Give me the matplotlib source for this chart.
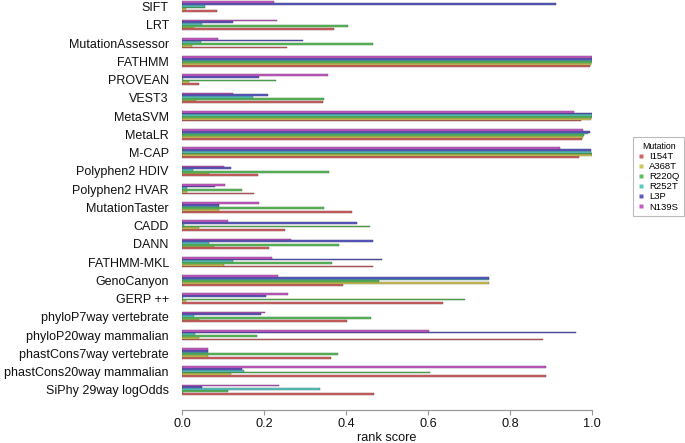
import matplotlib
matplotlib.use("Agg")
import matplotlib.pyplot as plt
from matplotlib.lines import Line2D
from matplotlib.colors import to_rgb
import numpy as np

plt.rcParams['font.family'] = ['Liberation Sans', 'DejaVu Sans']

categories = ["SIFT", "LRT", "MutationAssessor", "FATHMM", "PROVEAN", "VEST3",
              "MetaSVM", "MetaLR", "M-CAP", "Polyphen2 HDIV", "Polyphen2 HVAR",
              "MutationTaster", "CADD", "DANN", "FATHMM-MKL", "GenoCanyon",
              "GERP ++", "phyloP7way vertebrate", "phyloP20way mammalian",
              "phastCons7way vertebrate", "phastCons20way mammalian",
              "SiPhy 29way logOdds"]

mutations = ["I154T", "A368T", "R220Q", "R252T", "L3P", "N139S"]

I154T = [0.085, 0.370, 0.255, 0.996, 0.042, 0.343, 0.973, 0.975, 0.968, 0.185, 0.176,
         0.414, 0.250, 0.211, 0.465, 0.392, 0.636, 0.403, 0.880, 0.363, 0.889, 0.469]
A368T = [0.010, 0.029, 0.024, 0.998, 0.018, 0.034, 0.998, 0.979, 1.000, 0.067, 0.013,
         0.090, 0.041, 0.078, 0.102, 0.748, 0.009, 0.041, 0.042, 0.063, 0.120, 0.002]
R220Q = [0.055, 0.406, 0.467, 0.999, 0.229, 0.347, 1.000, 0.981, 1.000, 0.358, 0.146,
         0.346, 0.458, 0.383, 0.367, 0.480, 0.690, 0.461, 0.182, 0.380, 0.604, 0.111]
R252T = [0.055, 0.048, 0.046, 0.999, 0.003, 0.172, 1.000, 0.991, 0.997, 0.026, 0.013,
         0.090, 0.006, 0.065, 0.125, 0.748, 0.003, 0.029, 0.031, 0.063, 0.150, 0.336]
L3P = [0.912, 0.125, 0.294, 1.000, 0.188, 0.210, 1.000, 0.995, 0.997, 0.119, 0.080,
       0.090, 0.428, 0.467, 0.487, 0.748, 0.205, 0.193, 0.961, 0.063, 0.147, 0.048]
N139S = [0.225, 0.231, 0.087, 0.999, 0.355, 0.124, 0.957, 0.977, 0.922, 0.102, 0.104,
         0.189, 0.112, 0.265, 0.220, 0.234, 0.258, 0.202, 0.602, 0.063, 0.889, 0.237]

series = [I154T, A368T, R220Q, R252T, L3P, N139S]
colors = ["#D46464", "#CFC45A", "#5CC05C", "#5CC8C2", "#5C5CC4", "#C85CC8"]
xticks = [0.0, 0.2, 0.4, 0.6, 0.8, 1.0]

W, H = 685, 443
fig = plt.figure(figsize=(W / 100, H / 100), dpi=100)
ax_left, ax_right, ax_top, ax_bot = 182, 592, 0, 410
ax = fig.add_axes([ax_left / W, 1 - ax_bot / H, (ax_right - ax_left) / W, (ax_bot - ax_top) / H])

pitch = 18.25
first = 6.6
bar_h = 1.72
centers = first + pitch * np.arange(len(categories))
for j, (vals, c) in enumerate(zip(series, colors)):
    ypos = centers + (2.5 - j) * bar_h
    edge = tuple(v * 0.55 for v in to_rgb(c))
    ax.barh(ypos, vals, height=bar_h, color=c, edgecolor=edge, linewidth=0.3)

ax.set_xlim(0, 1)
ax.set_ylim(ax_bot - ax_top, 0)
ax.set_yticks(centers)
ax.set_yticklabels(categories, fontsize=9.0, color="#111111")
ax.tick_params(axis='y', length=0, pad=9.5)
ax.set_xticks(xticks)
ax.set_xticklabels([f"{t:.1f}" for t in xticks], fontsize=9.2, color="#111111")
ax.tick_params(axis='x', length=3.5, width=0.8, color="#999999", pad=2)
ax.set_xlabel("rank score", fontsize=9.2, labelpad=1.5, color="#111111")
for s in ["top", "right", "left"]:
    ax.spines[s].set_visible(False)
ax.spines["bottom"].set_color("#999999")
ax.spines["bottom"].set_linewidth(0.9)
ax.spines["bottom"].set_bounds(0, 1)
ax.patch.set_alpha(0)

handles = [Line2D([0], [0], marker='s', linestyle='none', markersize=3.3,
                  markerfacecolor=c, markeredgecolor='none') for c in colors]
leg = fig.legend(handles, mutations, title="Mutation", loc="upper left",
                 bbox_to_anchor=(633 / W, 1 - 137 / H), bbox_transform=fig.transFigure,
                 borderaxespad=0, fontsize=6.8, title_fontsize=6.3, frameon=True,
                 fancybox=False, handlelength=0.7, handletextpad=0.5,
                 labelspacing=0.12, borderpad=0.5)
leg.get_frame().set_edgecolor("#AAAAAA")
leg.get_frame().set_linewidth(0.8)

fig.savefig("out.png", dpi=100)
